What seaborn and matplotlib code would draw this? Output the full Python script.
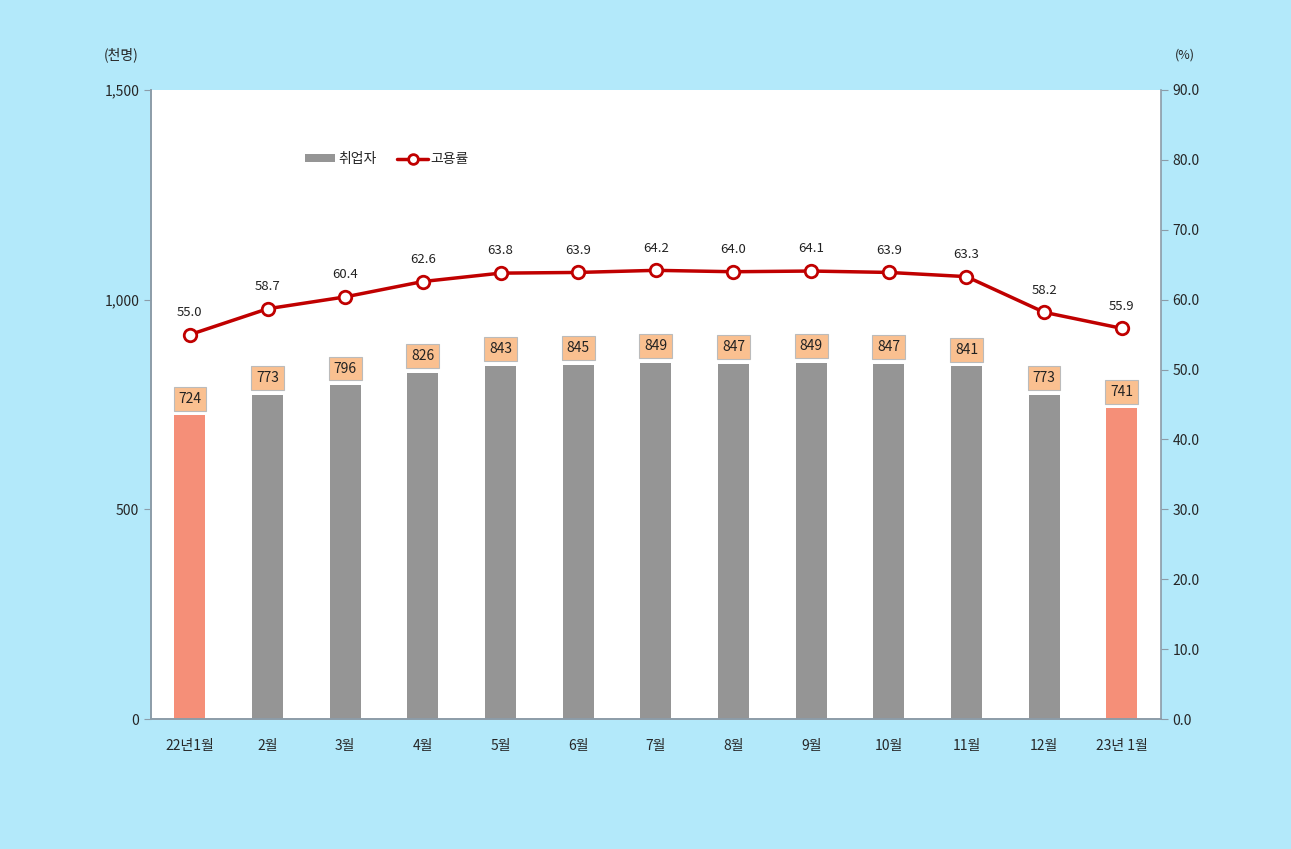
import matplotlib
matplotlib.use("Agg")
import matplotlib.pyplot as plt
import matplotlib.ticker as mticker
from matplotlib.lines import Line2D
from matplotlib.patches import Patch
import numpy as np
import pandas as pd
import seaborn as sns

# Data
months = ["22년1월", "2월", "3월", "4월", "5월", "6월", "7월", "8월", "9월", "10월", "11월", "12월", "23년 1월"]
employed = [724, 773, 796, 826, 843, 845, 849, 847, 849, 847, 841, 773, 741]
emp_rate = [55.0, 58.7, 60.4, 62.6, 63.8, 63.9, 64.2, 64.0, 64.1, 63.9, 63.3, 58.2, 55.9]
highlight = ["22년1월", "23년 1월"]

bg = "#B3E9FA"
gray = "#959595"
salmon = "#F58F78"
red = "#C00000"
axis_col = "#8C9CA8"

sns.set_style("white")
plt.rcParams["font.family"] = ["Noto Sans CJK KR", "DejaVu Sans"]

df = pd.DataFrame({"month": months, "employed": employed, "rate": emp_rate})
df["pos"] = np.arange(len(df))
colors = {m: (salmon if m in highlight else gray) for m in months}

fig = plt.figure(figsize=(12.91, 8.49), dpi=100, facecolor=bg)
ax = fig.add_axes([0.117, 0.153, 0.782, 0.741])
ax.set_facecolor("white")

sns.barplot(data=df, x="month", y="employed", hue="month", palette=colors,
            width=0.4, legend=False, ax=ax, saturation=1, linewidth=0)
ax.set_ylim(0, 1500)
ax.set_xlim(-0.5, len(months) - 0.5)
ax.yaxis.set_major_locator(mticker.MultipleLocator(500))
ax.yaxis.set_major_formatter(mticker.FuncFormatter(lambda v, p: f"{int(v):,}"))
ax.set_xlabel("")
ax.set_ylabel("")

# bar value boxes
for p, v in zip(df["pos"], df["employed"]):
    ax.annotate(f"{v}", (p, v), xytext=(0, 12), textcoords="offset points",
                ha="center", va="center", fontsize=10, color="#222222",
                bbox=dict(boxstyle="square,pad=0.35", fc="#FAC090", ec="#BBBBBB", lw=0.8))

ax2 = ax.twinx()
sns.lineplot(data=df, x="pos", y="rate", ax=ax2, color=red, lw=2.5,
             marker="o", markersize=9, markerfacecolor="white",
             markeredgecolor=red, markeredgewidth=2)
ax2.set_ylim(0, 90)
ax2.yaxis.set_major_locator(mticker.MultipleLocator(10))
ax2.yaxis.set_major_formatter(mticker.FormatStrFormatter("%.1f"))
ax2.set_xlabel("")
ax2.set_ylabel("")
for p, v in zip(df["pos"], df["rate"]):
    ax2.annotate(f"{v:.1f}", (p, v), xytext=(0, 16), textcoords="offset points",
                 ha="center", va="center", fontsize=9.5, color="#222222")

# x ticks: labels in centre, tick marks at boundaries
ax.set_xticks(range(len(months)))
ax.set_xticklabels(months)
ax.set_xticks(np.arange(-0.5, len(months), 1), minor=True)
ax.tick_params(axis="x", which="major", length=0, pad=14, labelsize=10)
ax.tick_params(axis="x", which="minor", length=5, color=axis_col, direction="out")
ax.tick_params(axis="y", length=5, color=axis_col, direction="out", labelsize=10)
ax2.tick_params(axis="y", length=5, color=axis_col, direction="out", labelsize=10)

for a in (ax, ax2):
    a.spines["top"].set_visible(False)
    for s in ("left", "right", "bottom"):
        a.spines[s].set_color(axis_col)
        a.spines[s].set_linewidth(1.2)
ax.spines["right"].set_visible(False)

fig.text(0.080, 0.935, "(천명)", fontsize=10, ha="left", va="center")
fig.text(0.910, 0.935, "(%)", fontsize=9, ha="left", va="center")

handles = [Patch(facecolor=gray, edgecolor="none"),
           Line2D([0], [0], color=red, lw=2.5, marker="o", markersize=7,
                  markerfacecolor="white", markeredgecolor=red, markeredgewidth=2)]
ax2.legend(handles, ["취업자", "고용률"], loc="center left", bbox_to_anchor=(0.14, 0.89),
           ncol=2, frameon=False, fontsize=10, handlelength=2.2, handleheight=0.5,
           columnspacing=1.5, handletextpad=0.2)

fig.savefig("out.png", dpi=100, facecolor=bg)
